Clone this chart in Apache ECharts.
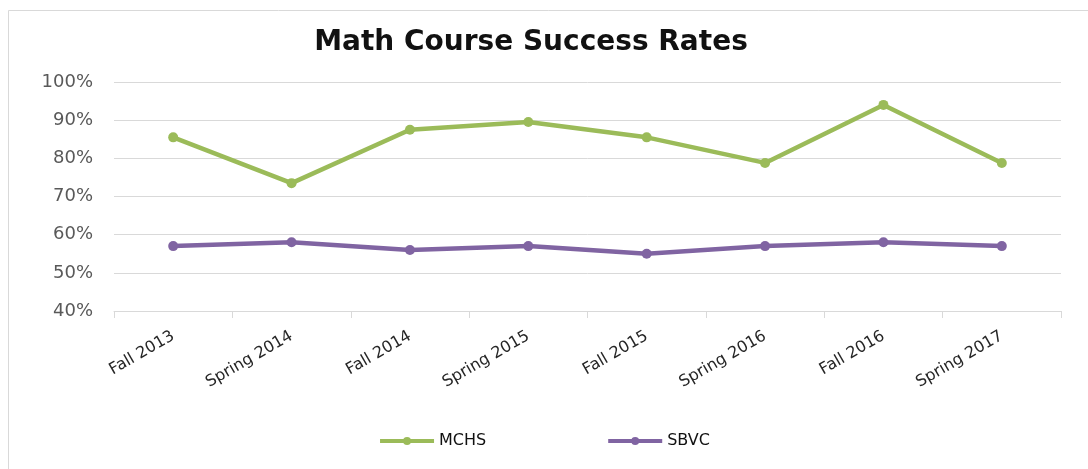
<!DOCTYPE html>
<html>
<head>
<meta charset="utf-8">
<script src="https://cdn.jsdelivr.net/npm/echarts@6/dist/echarts.min.js"></script>
<style>
  html, body { margin: 0; padding: 0; background: #fff; }
  #chart { width: 1088px; height: 469px; }
</style>
</head>
<body>
<div id="chart"></div>
<script>
// 学期
var terms = ['Fall 2013', 'Spring 2014', 'Fall 2014', 'Spring 2015',
  'Fall 2015', 'Spring 2016', 'Fall 2016', 'Spring 2017'];

// 成功率 (%)
var mchs = [85.5, 73.5, 87.5, 89.5, 85.5, 78.8, 94, 78.8];
var sbvc = [57, 58, 56, 57, 55, 57, 58, 57];

var chart = echarts.init(document.getElementById('chart'));

var option = {
  backgroundColor: '#fff',
  animation: false,
  graphic: [{
    type: 'rect',
    shape: { x: 8.5, y: 10.5, width: 1100, height: 470 },
    style: { fill: 'none', stroke: '#d9d9d9', lineWidth: 1 },
    silent: true
  }],
  title: {
    text: 'Math Course Success Rates',
    left: 526,
    textAlign: 'center',
    top: 24,
    textStyle: {
      fontFamily: 'DejaVu Sans',
      fontSize: 28,
      fontWeight: 'bold',
      color: '#111'
    }
  },
  legend: {
    top: 428,
    left: 'center',
    itemWidth: 54,
    itemHeight: 10,
    itemGap: 120,
    lineStyle: { width: 4 },
    textStyle: { fontFamily: 'DejaVu Sans', fontSize: 16, color: '#111' },
    data: ['MCHS', 'SBVC']
  },
  grid: { left: 114, right: 27, top: 82, bottom: 158 },
  xAxis: {
    type: 'category',
    data: terms,
    boundaryGap: true,
    axisLine: { lineStyle: { color: '#d9d9d9', width: 1 } },
    axisTick: { show: true, length: 7, lineStyle: { color: '#d9d9d9' } },
    axisLabel: {
      interval: 0,
      rotate: 30,
      margin: 24,
      fontFamily: 'DejaVu Sans',
      fontSize: 16,
      color: '#262626'
    }
  },
  yAxis: {
    type: 'value',
    min: 40,
    max: 100,
    interval: 10,
    axisLine: { show: false },
    axisTick: { show: false },
    axisLabel: {
      formatter: '{value}%',
      margin: 21,
      fontFamily: 'DejaVu Sans',
      fontSize: 18,
      color: '#595959'
    },
    splitLine: { lineStyle: { color: '#d9d9d9', width: 1 } }
  },
  series: [
    {
      name: 'MCHS',
      type: 'line',
      data: mchs,
      symbol: 'circle',
      symbolSize: 10,
      lineStyle: { color: '#9bbb59', width: 4.5 },
      itemStyle: { color: '#9bbb59' }
    },
    {
      name: 'SBVC',
      type: 'line',
      data: sbvc,
      symbol: 'circle',
      symbolSize: 10,
      lineStyle: { color: '#8064a2', width: 4.5 },
      itemStyle: { color: '#8064a2' }
    }
  ]
};

chart.setOption(option);
</script>
</body>
</html>
